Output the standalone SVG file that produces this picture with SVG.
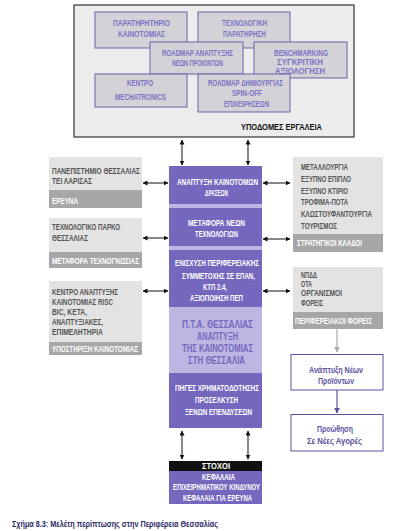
<svg xmlns="http://www.w3.org/2000/svg" width="411" height="531" viewBox="0 0 411 531">
<defs>
<marker id="ah" viewBox="0 0 10 10" refX="9" refY="5" markerWidth="5" markerHeight="5" orient="auto-start-reverse" markerUnits="userSpaceOnUse"><path d="M0,0 L10,5 L0,10 z" fill="#111"/></marker>
<marker id="ahg" viewBox="0 0 10 10" refX="9" refY="5" markerWidth="6" markerHeight="6" orient="auto" markerUnits="userSpaceOnUse"><path d="M0,0 L10,5 L0,10 z" fill="#a8a8a8"/></marker>
<marker id="ahp" viewBox="0 0 10 10" refX="9" refY="5" markerWidth="6" markerHeight="6" orient="auto" markerUnits="userSpaceOnUse"><path d="M0,0 L10,5 L0,10 z" fill="#5a52a0"/></marker>
</defs>
<style>
text{font-family:"Liberation Sans",Arial,sans-serif;font-weight:bold;}
.tb{fill:#d2d2d7;stroke:#6a62a8;stroke-width:1;}
.tt{fill:#7b72c4;font-size:8.5px;}
.gb{fill:#e3e3e3;}
.gl{fill:#a7a7a7;}
.gt{fill:#555555;font-size:8.5px;}
.wt{fill:#ffffff;font-size:8.5px;}
.pc{fill:#7467bd;}
.pl{fill:#bdb6e3;}
.ct{fill:#ffffff;font-size:8.5px;}
.lt{fill:#7467bd;font-size:10.5px;}
.wb{fill:#ffffff;stroke:#5a52a0;stroke-width:1;}
.wbt{fill:#5a52a0;font-size:8.5px;font-weight:bold;}
.ar{stroke:#111;stroke-width:1;fill:none;marker-start:url(#ah);marker-end:url(#ah);}
</style>
<rect width="411" height="531" fill="#ffffff"/>

<g id="tools">
<rect x="74" y="5" width="280" height="132" fill="#ececec" stroke="#333" stroke-width="1.2"/>
<g id="t1"><rect class="tb" x="95" y="12" width="92" height="36"/>
<text class="tt" x="113" y="26" textLength="57" lengthAdjust="spacingAndGlyphs">ΠΑΡΑΤΗΡΗΤΗΡΙΟ</text>
<text class="tt" x="118" y="37" textLength="47" lengthAdjust="spacingAndGlyphs">ΚΑΙΝΟΤΟΜΙΑΣ</text></g>
<g id="t2"><rect class="tb" x="198" y="12" width="92" height="36"/>
<text class="tt" x="222" y="26" textLength="45" lengthAdjust="spacingAndGlyphs">ΤΕΧΝΟΛΟΓΙΚΗ</text>
<text class="tt" x="223" y="37" textLength="43" lengthAdjust="spacingAndGlyphs">ΠΑΡΑΤΗΡΗΣΗ</text></g>
<g id="t3"><rect class="tb" x="150" y="42" width="93" height="32"/>
<text class="tt" x="162" y="56" textLength="71" lengthAdjust="spacingAndGlyphs">ROADMAP ΑΝΑΠΤΥΞΗΣ</text>
<text class="tt" x="172" y="66" textLength="51" lengthAdjust="spacingAndGlyphs">ΝΕΩΝ ΠΡΟΙΟΝΤΩΝ</text></g>
<g id="t4"><rect class="tb" x="254" y="42" width="93" height="36"/>
<text class="tt" x="274" y="56" textLength="54" lengthAdjust="spacingAndGlyphs">BENCHMARKING</text>
<text class="tt" x="277" y="64.5" textLength="46" lengthAdjust="spacingAndGlyphs">ΣΥΓΚΡΙΤΙΚΗ</text>
<text class="tt" x="275" y="73.5" textLength="50" lengthAdjust="spacingAndGlyphs">ΑΞΙΟΛΟΓΗΣΗ</text></g>
<g id="t5"><rect class="tb" x="95" y="74" width="92" height="33"/>
<text class="tt" x="127" y="86" textLength="26" lengthAdjust="spacingAndGlyphs">ΚΕΝΤΡΟ</text>
<text class="tt" x="115" y="99.5" textLength="51" lengthAdjust="spacingAndGlyphs">MECHATRONICS</text></g>
<g id="t6"><rect class="tb" x="198" y="74" width="92" height="38"/>
<text class="tt" x="208" y="86" textLength="75" lengthAdjust="spacingAndGlyphs">ROADMAP ΔΗΜΙΟΥΡΓΙΑΣ</text>
<text class="tt" x="232" y="96" textLength="30" lengthAdjust="spacingAndGlyphs">SPIN-OFF</text>
<text class="tt" x="224" y="106.5" textLength="45" lengthAdjust="spacingAndGlyphs">ΕΠΙΧΕΙΡΗΣΕΩΝ</text></g>
<text x="241" y="130" font-size="9.5" fill="#111" textLength="81" lengthAdjust="spacingAndGlyphs">ΥΠΟΔΟΜΕΣ ΕΡΓΑΛΕΙΑ</text>
</g>

<g id="center">
<rect class="pc" x="169" y="166" width="93" height="38"/>
<rect class="pl" x="169" y="204" width="93" height="4"/>
<rect class="pc" x="169" y="208" width="93" height="38"/>
<rect class="pl" x="169" y="246" width="93" height="4"/>
<rect class="pc" x="169" y="250" width="93" height="57"/>
<rect class="pl" x="169" y="307" width="93" height="66"/>
<rect class="pc" x="169" y="373" width="93" height="55"/>
<text class="ct" x="177" y="185" textLength="81" lengthAdjust="spacingAndGlyphs">ΑΝΑΠΤΥΞΗ ΚΑΙΝΟΤΟΜΩΝ</text>
<text class="ct" x="205" y="196" textLength="23" lengthAdjust="spacingAndGlyphs">ΔΡΑΣΕΩΝ</text>
<text class="ct" x="188" y="226" textLength="57" lengthAdjust="spacingAndGlyphs">ΜΕΤΑΦΟΡΑ ΝΕΩΝ</text>
<text class="ct" x="195" y="237" textLength="43" lengthAdjust="spacingAndGlyphs">ΤΕΧΝΟΛΟΓΙΩΝ</text>
<text class="ct" x="175" y="266" textLength="84" lengthAdjust="spacingAndGlyphs">ΕΝΙΣΧΥΣΗ ΠΕΡΙΦΕΡΕΙΑΚΗΣ</text>
<text class="ct" x="182" y="279" textLength="73" lengthAdjust="spacingAndGlyphs">ΣΥΜΜΕΤΟΧΗΣ ΣΕ ΕΠΑΝ,</text>
<text class="ct" x="203" y="290" textLength="24" lengthAdjust="spacingAndGlyphs">ΚΤΠ 2.4,</text>
<text class="ct" x="190" y="301" textLength="53" lengthAdjust="spacingAndGlyphs">ΑΞΙΟΠΟΙΗΣΗ ΠΕΠ</text>
<text class="lt" x="182" y="328" textLength="71" lengthAdjust="spacingAndGlyphs">Π.Τ.Α. ΘΕΣΣΑΛΙΑΣ</text>
<text class="lt" x="197" y="340" textLength="41" lengthAdjust="spacingAndGlyphs">ΑΝΑΠΤΥΞΗ</text>
<text class="lt" x="182" y="352" textLength="71" lengthAdjust="spacingAndGlyphs">ΤΗΣ ΚΑΙΝΟΤΟΜΙΑΣ</text>
<text class="lt" x="188" y="364" textLength="57" lengthAdjust="spacingAndGlyphs">ΣΤΗ ΘΕΣΣΑΛΙΑ</text>
<text class="ct" x="175" y="391" textLength="84" lengthAdjust="spacingAndGlyphs">ΠΗΓΕΣ ΧΡΗΜΑΤΟΔΟΤΗΣΗΣ</text>
<text class="ct" x="195" y="403" textLength="43" lengthAdjust="spacingAndGlyphs">ΠΡΟΣΕΛΚΥΣΗ</text>
<text class="ct" x="185" y="415" textLength="67" lengthAdjust="spacingAndGlyphs">ΞΕΝΩΝ ΕΠΕΝΔΥΣΕΩΝ</text>
</g>

<g id="goals">
<rect x="169" y="461" width="93" height="10" fill="#111"/>
<rect class="pc" x="169" y="471" width="93" height="33"/>
<text class="ct" x="202" y="469" font-size="7.5" textLength="28" lengthAdjust="spacingAndGlyphs">ΣΤΟΧΟΙ</text>
<text class="ct" x="202" y="479.5" textLength="33" lengthAdjust="spacingAndGlyphs">ΚΕΦΑΛΑΙΑ</text>
<text class="ct" x="173" y="490" textLength="87" lengthAdjust="spacingAndGlyphs">ΕΠΙΧΕΙΡΗΜΑΤΙΚΟΥ ΚΙΝΔΥΝΟΥ</text>
<text class="ct" x="183" y="500.5" textLength="69" lengthAdjust="spacingAndGlyphs">ΚΕΦΑΛΑΙΑ ΓΙΑ ΕΡΕΥΝΑ</text>
</g>

<g id="left1">
<rect class="gb" x="49" y="157" width="93" height="33"/>
<rect class="gl" x="49" y="190" width="93" height="18"/>
<text class="gt" x="52" y="174" textLength="88" lengthAdjust="spacingAndGlyphs">ΠΑΝΕΠΙΣΤΗΜΙΟ ΘΕΣΣΑΛΙΑΣ</text>
<text class="gt" x="52" y="184" textLength="40" lengthAdjust="spacingAndGlyphs">ΤΕΙ ΛΑΡΙΣΑΣ</text>
<text class="wt" x="52" y="204" textLength="26" lengthAdjust="spacingAndGlyphs">ΕΡΕΥΝΑ</text>
</g>
<g id="left2">
<rect class="gb" x="49" y="218" width="93" height="34"/>
<rect class="gl" x="49" y="252" width="93" height="16"/>
<text class="gt" x="52" y="230" textLength="68" lengthAdjust="spacingAndGlyphs">ΤΕΧΝΟΛΟΓΙΚΟ ΠΑΡΚΟ</text>
<text class="gt" x="52" y="241" textLength="36" lengthAdjust="spacingAndGlyphs">ΘΕΣΣΑΛΙΑΣ</text>
<text class="wt" x="52" y="263.5" textLength="87" lengthAdjust="spacingAndGlyphs">ΜΕΤΑΦΟΡΑ ΤΕΧΝΟΓΝΩΣΙΑΣ</text>
</g>
<g id="left3">
<rect class="gb" x="49" y="281" width="93" height="61"/>
<rect class="gl" x="49" y="342" width="93" height="13"/>
<text class="gt" x="52" y="295" textLength="66" lengthAdjust="spacingAndGlyphs">ΚΕΝΤΡΟ ΑΝΑΠΤΥΞΗΣ</text>
<text class="gt" x="52" y="305" textLength="61" lengthAdjust="spacingAndGlyphs">ΚΑΙΝΟΤΟΜΙΑΣ RISC</text>
<text class="gt" x="52" y="315" textLength="35" lengthAdjust="spacingAndGlyphs">BIC,  ΚΕΤΑ,</text>
<text class="gt" x="52" y="325" textLength="51" lengthAdjust="spacingAndGlyphs">ΑΝΑΠΤΥΞΙΑΚΕΣ,</text>
<text class="gt" x="52" y="335" textLength="51" lengthAdjust="spacingAndGlyphs">ΕΠΙΜΕΛΗΤΗΡΙΑ</text>
<text class="wt" x="52" y="351.5" textLength="86" lengthAdjust="spacingAndGlyphs">ΥΠΟΣΤΗΡΙΞΗ ΚΑΙΝΟΤΟΜΙΑΣ</text>
</g>

<g id="right1">
<rect class="gb" x="293" y="157" width="90" height="77"/>
<rect class="gl" x="293" y="234" width="90" height="18"/>
<text class="gt" x="301" y="170" textLength="47" lengthAdjust="spacingAndGlyphs">ΜΕΤΑΛΛΟΥΡΓΙΑ</text>
<text class="gt" x="301" y="182" textLength="50" lengthAdjust="spacingAndGlyphs">ΕΞΥΠΝΟ ΕΠΙΠΛΟ</text>
<text class="gt" x="301" y="194" textLength="47" lengthAdjust="spacingAndGlyphs">ΕΞΥΠΝΟ ΚΤΙΡΙΟ</text>
<text class="gt" x="301" y="205" textLength="47" lengthAdjust="spacingAndGlyphs">ΤΡΟΦΙΜΑ-ΠΟΤΑ</text>
<text class="gt" x="301" y="217" textLength="71" lengthAdjust="spacingAndGlyphs">ΚΛΩΣΤΟΥΦΑΝΤΟΥΡΓΙΑ</text>
<text class="gt" x="301" y="229" textLength="36" lengthAdjust="spacingAndGlyphs">ΤΟΥΡΙΣΜΟΣ</text>
<text class="wt" x="297" y="246" textLength="65" lengthAdjust="spacingAndGlyphs">ΣΤΡΑΤΗΓΙΚΟΙ ΚΛΑΔΟΙ</text>
</g>
<g id="right2">
<rect class="gb" x="293" y="267" width="90" height="45"/>
<rect class="gl" x="293" y="312" width="90" height="17"/>
<text class="gt" x="301" y="278" textLength="16" lengthAdjust="spacingAndGlyphs">ΝΠΔΔ</text>
<text class="gt" x="301" y="287" textLength="11" lengthAdjust="spacingAndGlyphs">ΟΤΑ</text>
<text class="gt" x="301" y="296" textLength="41" lengthAdjust="spacingAndGlyphs">ΟΡΓΑΝΙΣΜΟΙ</text>
<text class="gt" x="301" y="306" textLength="22" lengthAdjust="spacingAndGlyphs">ΦΟΡΕΙΣ</text>
<text class="wt" x="295" y="324" textLength="77" lengthAdjust="spacingAndGlyphs">ΠΕΡΙΦΕΡΕΙΑΚΟΙ ΦΟΡΕΙΣ</text>
</g>
<g id="products">
<rect class="wb" x="291" y="354.5" width="92" height="35.5"/>
<text class="wbt" x="309" y="373" textLength="54" lengthAdjust="spacingAndGlyphs">Ανάπτυξη Νέων</text>
<text class="wbt" x="318" y="384" textLength="36" lengthAdjust="spacingAndGlyphs">Προϊόντων</text>
</g>
<g id="markets">
<rect class="wb" x="291" y="414.5" width="92" height="36.5"/>
<text class="wbt" x="317" y="432" textLength="36" lengthAdjust="spacingAndGlyphs">Προώθηση</text>
<text class="wbt" x="307" y="444" textLength="55" lengthAdjust="spacingAndGlyphs">Σε Νέες Αγορές</text>
</g>

<g id="connectors">
<line class="ar" x1="182" y1="140" x2="182" y2="165"/>
<line class="ar" x1="248" y1="140" x2="248" y2="165"/>
<line class="ar" x1="182" y1="431" x2="182" y2="459"/>
<line class="ar" x1="248" y1="431" x2="248" y2="459"/>
<line class="ar" x1="143" y1="183" x2="168" y2="183"/>
<line class="ar" x1="143" y1="238" x2="168" y2="238"/>
<line class="ar" x1="143" y1="291" x2="168" y2="291"/>
<line class="ar" x1="263" y1="183" x2="290" y2="183"/>
<line class="ar" x1="263" y1="239" x2="290" y2="239"/>
<line class="ar" x1="263" y1="291" x2="290" y2="291"/>
<line x1="337" y1="329" x2="337" y2="352" stroke="#a8a8a8" stroke-width="1.2" marker-end="url(#ahg)"/>
<line x1="337" y1="390" x2="337" y2="413" stroke="#5a52a0" stroke-width="1.2" marker-end="url(#ahp)"/>
</g>

<text x="12" y="527" font-size="9.5" fill="#2a2a66" textLength="206" lengthAdjust="spacingAndGlyphs">Σχήμα 8.3: Μελέτη περίπτωσης στην Περιφέρεια Θεσσαλίας</text>
</svg>
